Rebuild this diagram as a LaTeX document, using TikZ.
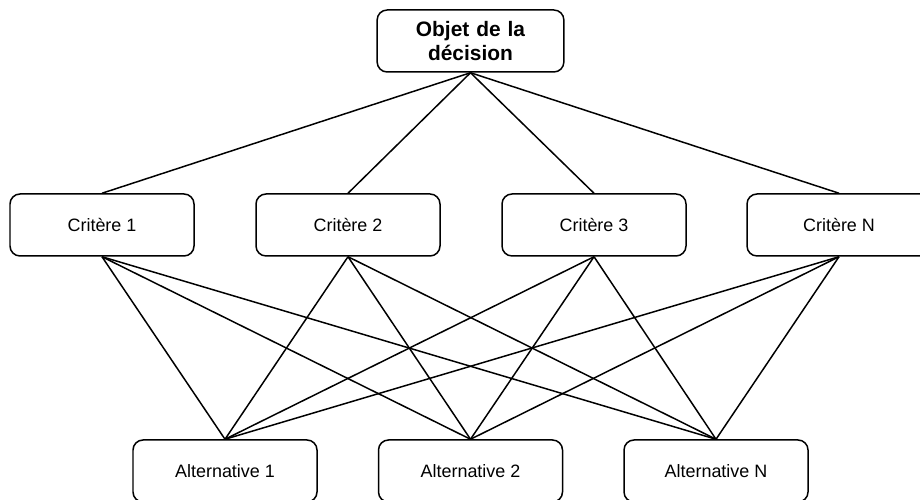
\documentclass[tikz,border=0pt]{standalone}
\usepackage{fontspec}
\setmainfont{Liberation Sans}
\usepackage{tikz}
\usetikzlibrary{calc}

\begin{document}
\begin{tikzpicture}[line width=0.85pt,
  box/.style={shape=rectangle,draw,rounded corners=0.2cm,minimum height=1.24cm,minimum width=3.68cm,font=\fontsize{10.2}{12.5}\selectfont},
  topbox/.style={box,minimum width=3.7cm,text width=3.5cm,align=center,font=\fontsize{11.9}{13.6}\selectfont\bfseries}]
\useasboundingbox (0,0) rectangle (18.4,10);
\draw (9.41,9.18) node (obj) [topbox] {Objet de la\\décision};
\draw (2.04,5.5) node (c1) [box] {Critère 1};
\draw (6.96,5.5) node (c2) [box] {Critère 2};
\draw (11.88,5.5) node (c3) [box] {Critère 3};
\draw (16.78,5.5) node (cN) [box] {Critère N};
\draw (4.5,0.58) node (a1) [box] {Alternative 1};
\draw (9.41,0.58) node (a2) [box] {Alternative 2};
\draw (14.32,0.58) node (aN) [box] {Alternative N};
\foreach \c in {c1,c2,c3,cN} {
  \draw (obj.south) -- (\c.north);
  \foreach \a in {a1,a2,aN}
    \draw (\c.south) -- (\a.north);
}
\end{tikzpicture}
\end{document}
